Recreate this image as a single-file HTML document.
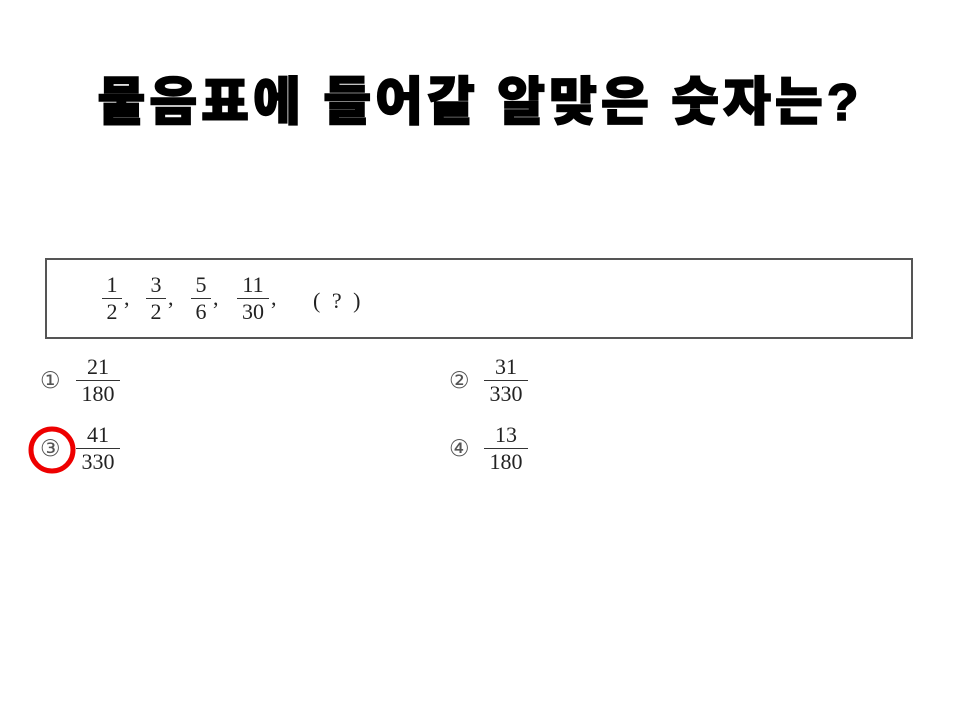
<!DOCTYPE html>
<html><head><meta charset="utf-8">
<style>
body{margin:0;width:960px;height:720px;background:#fff;position:relative;overflow:hidden;font-family:"Liberation Serif",serif;color:#222}
.title{position:absolute;left:0;width:960px;top:60px;text-align:center;font-family:"Liberation Sans","Noto Sans CJK KR",sans-serif;font-weight:900;font-size:52px;letter-spacing:4px;color:#000;-webkit-text-stroke:1.5px #000}
.box{position:absolute;left:45px;top:258px;width:868px;height:81px;border:2px solid #555;box-sizing:border-box}
.frac{position:absolute;text-align:center;font-size:22px;line-height:22px}
.frac .n{display:block;padding:0 2px}
.frac .bar{display:block;border-top:1.3px solid #333;margin:2px 0}
.frac .d{display:block;padding:0 2px}
.t{position:absolute;font-size:22px;line-height:22px}
.num{position:absolute;font-size:23px;line-height:22px;color:#555;font-family:"DejaVu Sans",sans-serif}
</style></head><body>
<div class="title">물음표에 들어갈 알맞은 숫자는?</div>
<div class="box"></div>
<div class="frac" style="left:102px;top:274px;width:20px"><span class="n">1</span><span class="bar"></span><span class="d">2</span></div>
<div class="t" style="left:124px;top:287px">,</div>
<div class="frac" style="left:146px;top:274px;width:20px"><span class="n">3</span><span class="bar"></span><span class="d">2</span></div>
<div class="t" style="left:168px;top:287px">,</div>
<div class="frac" style="left:191px;top:274px;width:20px"><span class="n">5</span><span class="bar"></span><span class="d">6</span></div>
<div class="t" style="left:213px;top:287px">,</div>
<div class="frac" style="left:237px;top:274px;width:32px"><span class="n">11</span><span class="bar"></span><span class="d">30</span></div>
<div class="t" style="left:271px;top:287px">,</div>
<div class="t" style="left:313px;top:290px;word-spacing:6px">( ? )</div>

<div class="num" style="left:40px;top:370px">①</div>
<div class="frac" style="left:76px;top:356px;width:44px"><span class="n">21</span><span class="bar"></span><span class="d">180</span></div>
<div class="num" style="left:449px;top:370px">②</div>
<div class="frac" style="left:484px;top:356px;width:44px"><span class="n">31</span><span class="bar"></span><span class="d">330</span></div>
<div class="num" style="left:40px;top:438px">③</div>
<div class="frac" style="left:76px;top:424px;width:44px"><span class="n">41</span><span class="bar"></span><span class="d">330</span></div>
<div class="num" style="left:449px;top:438px">④</div>
<div class="frac" style="left:484px;top:424px;width:44px"><span class="n">13</span><span class="bar"></span><span class="d">180</span></div>

<svg style="position:absolute;left:0;top:0" width="960" height="720">
<circle cx="52" cy="450" r="21" fill="none" stroke="#e00" stroke-width="5"/>
</svg>
</body></html>
